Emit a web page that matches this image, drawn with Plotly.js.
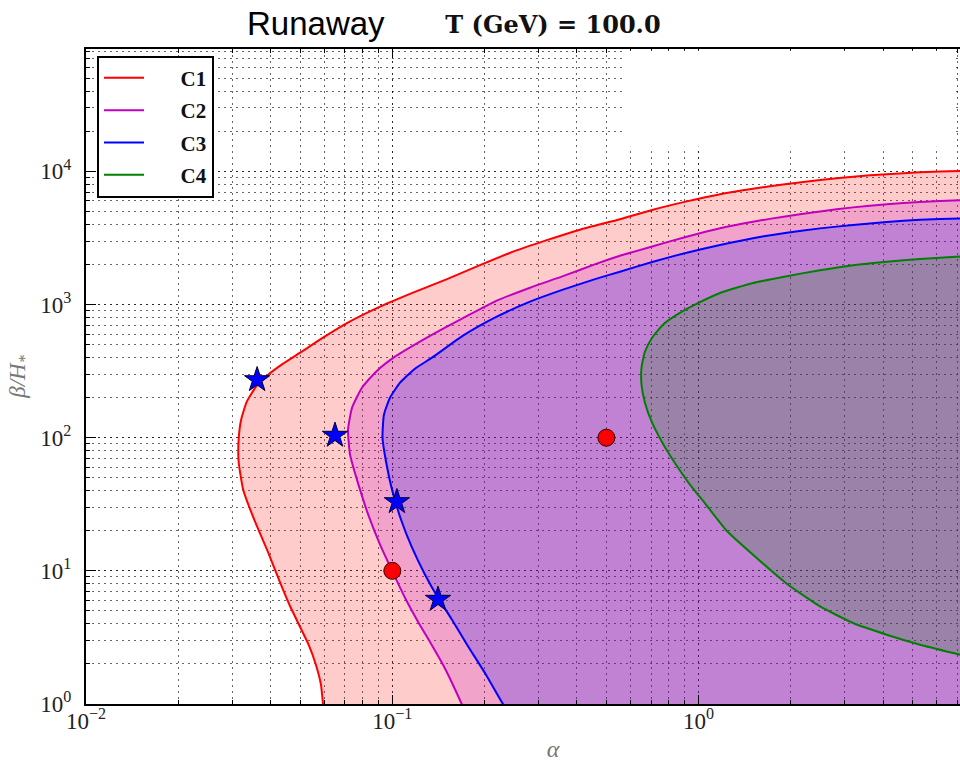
<!DOCTYPE html>
<html><head><meta charset="utf-8">
<script src="https://cdn.plot.ly/plotly-3.0.1.min.js"></script>
<style>html,body{margin:0;padding:0;background:#fff;overflow:hidden}</style>
</head><body><div id="chart" style="width:960px;height:762px"></div>
<script>
// ---- data ----
const seriesNames = ['C1', 'C2', 'C3', 'C4'];
const seriesColors = ['#ff0000', '#bf00bf', '#0000ff', '#008000'];
const seriesFills = ['rgba(255,0,0,0.2)', 'rgba(191,0,191,0.2)', 'rgba(0,0,255,0.2)', 'rgba(0,128,0,0.2)'];

const c1Alpha = [0.0601, 0.0594, 0.0585, 0.0563, 0.0533, 0.0496, 0.0463, 0.0433, 0.0390, 0.0351, 0.0326, 0.0315, 0.0315, 0.0321, 0.0335, 0.0359, 0.0390, 0.0440, 0.0500, 0.0594, 0.0711, 0.0912, 0.1169, 0.1509, 0.1933, 0.2478, 0.3192, 0.410, 0.5537, 0.7098, 0.9146, 1.175, 1.505, 1.94, 2.492, 3.192, 4.113, 5.283, 7.135, 10.0];
const c1Beta  = [0.817, 1.0, 1.396, 1.973, 2.789, 3.94, 5.47, 7.87, 14.41, 25.5, 40.7, 66.0, 96.6, 136.5, 186.4, 241.5, 292.2, 359.5, 434.8, 563.6, 724.4, 963, 1227, 1550, 1975, 2494, 3043, 3648, 4375, 5155, 5953, 6742, 7413, 8043, 8618, 9125, 9528, 9828, 10086, 10300];

const c2Alpha = [0.174, 0.1685, 0.1566, 0.1464, 0.1338, 0.1213, 0.110, 0.0998, 0.0912, 0.0839, 0.0779, 0.0728, 0.0717, 0.0739, 0.0796, 0.0885, 0.102, 0.1231, 0.1486, 0.1701, 0.2193, 0.2816, 0.3608, 0.4647, 0.5537, 0.7098, 0.9146, 1.175, 1.505, 1.94, 2.492, 3.192, 4.113, 5.283, 7.135, 10.0];
const c2Beta  = [0.846, 1.0, 1.445, 1.973, 2.837, 4.15, 6.28, 10.03, 15.72, 25.5, 42.9, 74.5, 114.8, 168, 237.4, 313.2, 405.8, 526, 670, 789.7, 1069, 1338, 1633, 2027, 2327, 2743, 3233, 3745, 4191, 4608, 5006, 5366, 5670, 5891, 6056, 6181];

const c3Alpha = [0.2404, 0.2298, 0.2022, 0.1754, 0.1566, 0.141, 0.1279, 0.116, 0.1068, 0.0998, 0.0954, 0.0929, 0.0939, 0.0983, 0.106, 0.1186, 0.1348, 0.1701, 0.2193, 0.2816, 0.3608, 0.4647, 0.5537, 0.7098, 0.9146, 1.175, 1.505, 1.94, 2.492, 3.192, 4.113, 5.283, 7.135, 10.0];
const c3Beta  = [0.86, 1.0, 1.66, 2.789, 4.3, 6.28, 9.36, 14.92, 24.2, 40.7, 66.0, 100, 148.8, 199.7, 258.9, 329.8, 398.8, 583.4, 810.5, 1050.5, 1293, 1564, 1765, 2098, 2452, 2800, 3150, 3465, 3732, 3958, 4169, 4323, 4436, 4529];

const c4Alpha = [10.0, 7.135, 5.283, 4.113, 3.192, 2.492, 1.94, 1.505, 1.235, 1.057, 0.937, 0.844, 0.765, 0.705, 0.668, 0.651, 0.651, 0.668, 0.705, 0.765, 0.850, 0.973, 1.175, 1.505, 1.94, 2.492, 3.192, 4.113, 5.283, 7.135, 10.0];
const c4Beta  = [1.94, 2.346, 2.789, 3.316, 4.058, 5.408, 8.01, 13.22, 20.02, 31.4, 44.4, 62.7, 90.2, 129.7, 183.2, 250, 335.5, 442.5, 563.6, 706, 839, 997.5, 1221, 1451, 1633, 1811, 1975, 2098, 2198, 2299, 2388];

const starAlpha = [0.0362, 0.0650, 0.1035, 0.141];
const starBeta  = [272, 104, 33, 6.1];
const dotAlpha  = [0.5, 0.1];
const dotBeta   = [100, 10];

const xTickVals = [0.01, 0.1, 1, 10];
const xTickText = ['10<sup>−2</sup>', '10<sup>−1</sup>', '10<sup>0</sup>', '10<sup>1</sup>'];
const yTickVals = [1, 10, 100, 1000, 10000];
const yTickText = ['10<sup>0</sup>', '10<sup>1</sup>', '10<sup>2</sup>', '10<sup>3</sup>', '10<sup>4</sup>'];

// ---- build traces ----
const curves = [[c1Alpha, c1Beta], [c2Alpha, c2Beta], [c3Alpha, c3Beta], [c4Alpha, c4Beta]];
const traces = [];
// filled regions (closed outside the visible axes)
curves.forEach(function (c, i) {
  let xs = c[0], ys = c[1];
  if (i < 3) {
    xs = xs.concat([30, 30, xs[0]]);
    ys = ys.concat([ys[ys.length - 1], 0.3, 0.3]);
  }
  traces.push({x: xs, y: ys, type: 'scatter', mode: 'lines', fill: 'toself',
    fillcolor: seriesFills[i], line: {width: 0, color: seriesFills[i], shape: 'spline', smoothing: 0.5},
    showlegend: false, hoverinfo: 'skip'});
});
// contour lines
curves.forEach(function (c, i) {
  traces.push({x: c[0], y: c[1], type: 'scatter', mode: 'lines',
    name: '\u2002\u2002\u2002' + seriesNames[i],
    legendgroup: seriesNames[i],
    line: {color: seriesColors[i], width: 2, shape: 'spline', smoothing: 0.5}});
});
traces.push({x: starAlpha, y: starBeta, type: 'scatter', mode: 'markers', showlegend: false,
  marker: {symbol: 'star', size: 19, color: '#0000ff', line: {color: '#000033', width: 1}}});
traces.push({x: dotAlpha, y: dotBeta, type: 'scatter', mode: 'markers', showlegend: false,
  marker: {symbol: 'circle', size: 17, color: '#ff0000', line: {color: '#330000', width: 1}}});

const gridCol = 'rgba(0,0,0,0.6)';
const tickFont = {family: 'Liberation Serif, serif', size: 23, color: '#222'};

const layout = {
  width: 960, height: 762,
  margin: {l: 86, r: 0, t: 49, b: 58},
  paper_bgcolor: '#fff', plot_bgcolor: '#fff',
  showlegend: true,
  title: {text: 'T (GeV) = 100.0', font: {family: 'DejaVu Serif, serif', size: 24, weight: 'bold', color: '#111'},
    x: 553 / 960, xref: 'container', xanchor: 'center', y: 1 - 25 / 762, yref: 'container', yanchor: 'middle'},
  xaxis: {type: 'log', range: [-2, 0.8534], showline: true, linecolor: '#000', linewidth: 2, mirror: 'allticks',
    ticks: 'inside', ticklen: 9, tickwidth: 1, tickcolor: '#000',
    tickmode: 'array', tickvals: xTickVals, ticktext: xTickText, tickfont: tickFont, ticklabelstandoff: -5,
    showgrid: true, gridcolor: gridCol, griddash: '2px,4px', gridwidth: 1, zeroline: false,
    minor: {dtick: 'D1', ticks: 'inside', ticklen: 4, tickcolor: '#000', showgrid: true, gridcolor: gridCol, griddash: '2px,4px', gridwidth: 1},
    title: {text: '\u200b\u2003\u2003\u2002<i>α</i>', font: {family: 'Liberation Serif, serif', size: 24, color: '#777'}, standoff: 14},
    automargin: false},
  yaxis: {type: 'log', range: [0, 4.919], showline: true, linecolor: '#000', linewidth: 2, mirror: false,
    ticks: 'inside', ticklen: 10, tickwidth: 1, tickcolor: '#000',
    tickmode: 'array', tickvals: yTickVals, ticktext: yTickText, tickfont: tickFont, ticklabelstandoff: 8,
    showgrid: true, gridcolor: gridCol, griddash: '2px,4px', gridwidth: 1, zeroline: false,
    minor: {dtick: 'D1', ticks: 'inside', ticklen: 4, tickcolor: '#000', showgrid: true, gridcolor: gridCol, griddash: '2px,4px', gridwidth: 1},
    title: {text: '<i>β/H<sub>*</sub></i>', font: {family: 'Liberation Serif, serif', size: 23, color: '#777'}, standoff: 8},
    automargin: false},
  legend: {x: (97 - 86) / 874, y: (704.3 - 56) / 655, xanchor: 'left', yanchor: 'top',
    bgcolor: '#fff', bordercolor: '#000', borderwidth: 2, itemwidth: 40,
    traceorder: 'grouped', tracegroupgap: 2,
    font: {family: 'Liberation Serif, serif', size: 21, weight: 'bold', color: '#111'}},
  annotations: [{text: 'Runaway', xref: 'paper', yref: 'paper', x: (316 - 86) / 874, y: (704.3 - 24) / 655,
    xanchor: 'center', yanchor: 'middle', showarrow: false,
    font: {family: 'Liberation Sans, Arial, sans-serif', size: 33, color: '#000'}}],
  shapes: [{type: 'rect', xref: 'paper', yref: 'paper', layer: 'above',
    x0: (623 - 86) / 874, x1: (956 - 86) / 874, y0: (704.3 - 147) / 655, y1: (704.3 - 51) / 655,
    fillcolor: '#fff', line: {width: 0}}]
};

Plotly.newPlot('chart', traces, layout, {displayModeBar: false, staticPlot: true});
</script></body></html>
